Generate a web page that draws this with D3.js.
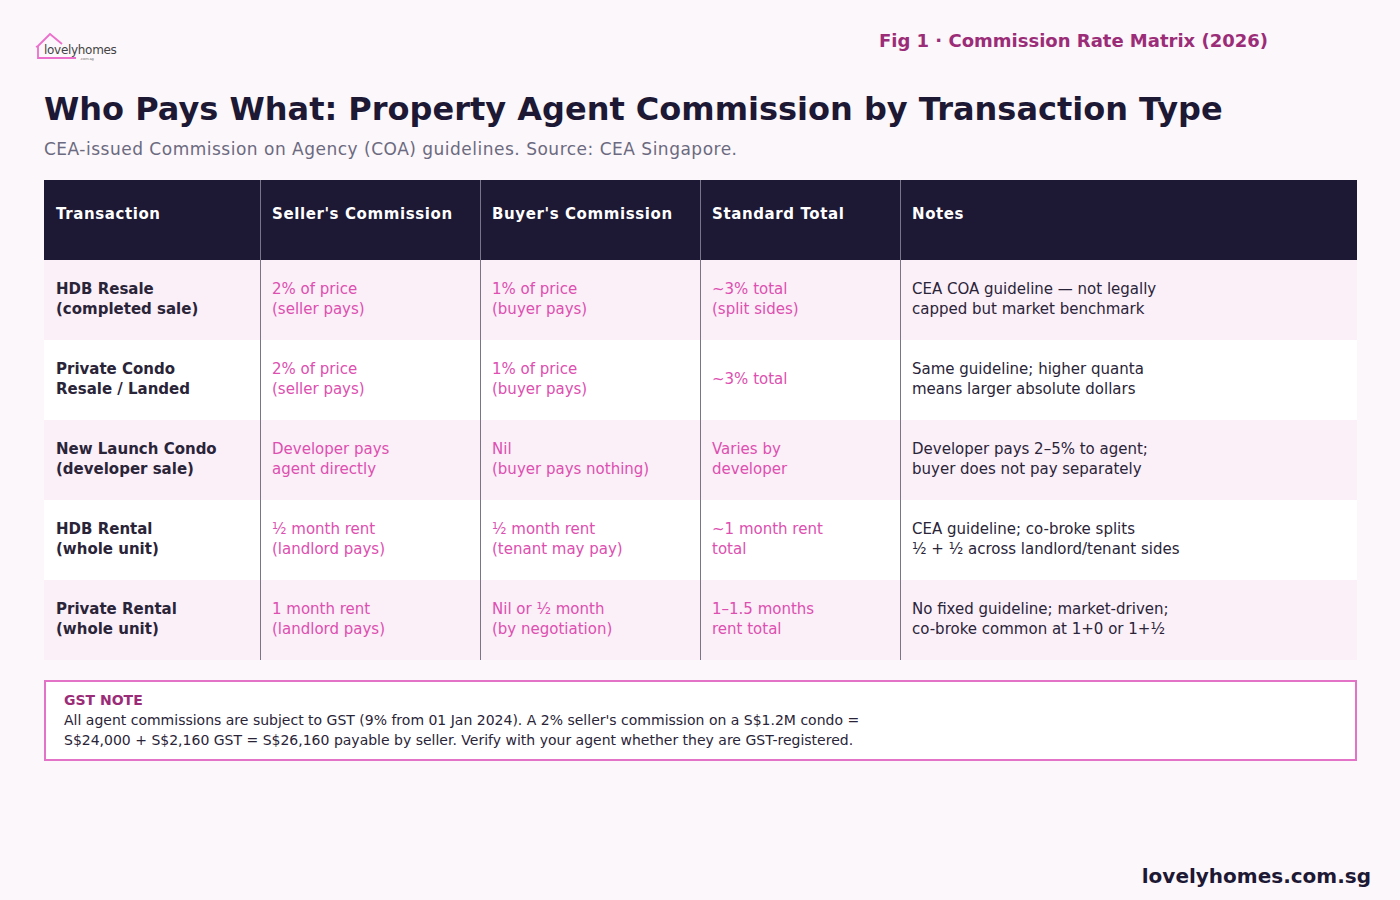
<!DOCTYPE html>
<html><head><meta charset="utf-8">
<script src="https://cdn.jsdelivr.net/npm/d3@7"></script>
<style>body{margin:0;background:#fcf7fa;font-family:"DejaVu Sans",sans-serif;}</style>
</head><body><svg id="c"></svg>
<script>
const W = 1400, H = 900;
const columns = ["Transaction", "Seller's Commission", "Buyer's Commission", "Standard Total", "Notes"];
const colEdges = [44, 260, 480, 700, 900, 1357];
const transactions = [["HDB Resale", "(completed sale)"], ["Private Condo", "Resale / Landed"], ["New Launch Condo", "(developer sale)"], ["HDB Rental", "(whole unit)"], ["Private Rental", "(whole unit)"]];
const sellers = [["2% of price", "(seller pays)"], ["2% of price", "(seller pays)"], ["Developer pays", "agent directly"], ["½ month rent", "(landlord pays)"], ["1 month rent", "(landlord pays)"]];
const buyers = [["1% of price", "(buyer pays)"], ["1% of price", "(buyer pays)"], ["Nil", "(buyer pays nothing)"], ["½ month rent", "(tenant may pay)"], ["Nil or ½ month", "(by negotiation)"]];
const totals = [["~3% total", "(split sides)"], ["~3% total"], ["Varies by", "developer"], ["~1 month rent", "total"], ["1–1.5 months", "rent total"]];
const notes = [["CEA COA guideline — not legally", "capped but market benchmark"], ["Same guideline; higher quanta", "means larger absolute dollars"], ["Developer pays 2–5% to agent;", "buyer does not pay separately"], ["CEA guideline; co-broke splits", "½ + ½ across landlord/tenant sides"], ["No fixed guideline; market-driven;", "co-broke common at 1+0 or 1+½"]];
const gstLines = ["All agent commissions are subject to GST (9% from 01 Jan 2024). A 2% seller's commission on a S$1.2M condo =", "S$24,000 + S$2,160 GST = S$26,160 payable by seller. Verify with your agent whether they are GST-registered."];

const svg = d3.select("#c").attr("width", W).attr("height", H);
svg.append("rect").attr("width", W).attr("height", H).attr("fill", "#fcf7fa");

// logo
const logo = svg.append("g");
logo.append("path").attr("d", "M38,46 L38,58 L76,58 M38,46 L50,34 L62,44 M38,46 L36,47")
  .attr("fill", "none").attr("stroke", "#ec6fcb").attr("stroke-width", 1.8);
logo.append("text").attr("x", 44).attr("y", 54).attr("font-size", 12).attr("letter-spacing", -0.3).attr("fill", "#444").text("lovelyhomes");
logo.append("text").attr("x", 80).attr("y", 60).attr("font-size", 3.5).attr("fill", "#666").text(".com.sg");

svg.append("text").attr("x", 1268).attr("y", 47).attr("text-anchor", "end").attr("font-size", 18)
  .attr("font-weight", "bold").attr("fill", "#9b2c78").text("Fig 1 · Commission Rate Matrix (2026)");
svg.append("text").attr("x", 44).attr("y", 120).attr("font-size", 32).attr("font-weight", "bold")
  .attr("fill", "#1d1834").text("Who Pays What: Property Agent Commission by Transaction Type");
svg.append("text").attr("x", 44).attr("y", 155).attr("font-size", 17).attr("letter-spacing", 0.5).attr("fill", "#6b6a80")
  .text("CEA-issued Commission on Agency (COA) guidelines. Source: CEA Singapore.");

const y = d3.scaleBand().domain(d3.range(transactions.length)).range([260, 660]);
const headerTop = 180;

svg.append("rect").attr("x", colEdges[0]).attr("y", headerTop).attr("width", colEdges[5] - colEdges[0])
  .attr("height", 260 - headerTop).attr("fill", "#1d1834");
columns.forEach((c, i) => svg.append("text").attr("x", colEdges[i] + 12).attr("y", 219)
  .attr("font-size", 15).attr("font-weight", "bold").attr("letter-spacing", 0.6).attr("fill", "#fff").text(c));

svg.selectAll(".row").data(transactions).enter().append("rect")
  .attr("x", colEdges[0]).attr("y", (d, i) => y(i)).attr("width", colEdges[5] - colEdges[0])
  .attr("height", y.bandwidth()).attr("fill", (d, i) => i % 2 ? "#ffffff" : "#fbeff8");

const cols = [transactions, sellers, buyers, totals, notes];
const styles = [{fill: "#2a2438", bold: true}, {fill: "#dd4fb0"}, {fill: "#dd4fb0"}, {fill: "#dd4fb0"}, {fill: "#2a2438"}];
cols.forEach((data, ci) => {
  data.forEach((lines, ri) => {
    const cy = y(ri) + y.bandwidth() / 2;
    const t = svg.append("text").attr("font-size", 15).attr("fill", styles[ci].fill)
      .attr("font-weight", styles[ci].bold ? "bold" : "normal");
    lines.forEach((l, li) => t.append("tspan").attr("x", colEdges[ci] + 12)
      .attr("y", cy + 4 + (li - (lines.length - 1) / 2) * 20).text(l));
  });
});

colEdges.slice(1, 5).forEach(x => {
  svg.append("line").attr("x1", x + 0.5).attr("x2", x + 0.5).attr("y1", headerTop).attr("y2", 660)
    .attr("stroke", "#7a7488").attr("stroke-width", 1);
});

// GST note
svg.append("rect").attr("x", 45).attr("y", 681).attr("width", 1311).attr("height", 79)
  .attr("fill", "#fff").attr("stroke", "#e373c6").attr("stroke-width", 2);
svg.append("text").attr("x", 64).attr("y", 705).attr("font-size", 14).attr("font-weight", "bold")
  .attr("fill", "#9b2c78").text("GST NOTE");
gstLines.forEach((l, i) => svg.append("text").attr("x", 64).attr("y", 725 + i * 20)
  .attr("font-size", 14).attr("fill", "#2a2438").text(l));

svg.append("text").attr("x", 1371).attr("y", 883).attr("text-anchor", "end").attr("font-size", 20)
  .attr("font-weight", "bold").attr("fill", "#1d1834").text("lovelyhomes.com.sg");
</script></body></html>
